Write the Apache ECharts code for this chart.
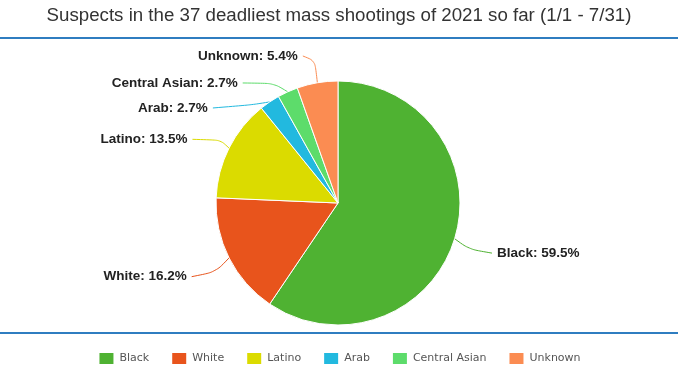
<!DOCTYPE html>
<html><head><meta charset="utf-8">
<script src="https://cdn.jsdelivr.net/npm/echarts@6/dist/echarts.min.js"></script>
<style>html,body{margin:0;padding:0;background:#fff}#c{width:678px;height:381px}</style>
</head><body><div id="c"></div>
<script>
const titleText = 'Suspects in the 37 deadliest mass shootings of 2021 so far (1/1 - 7/31)';
const categories = ['Black', 'White', 'Latino', 'Arab', 'Central Asian', 'Unknown'];
const counts = [22, 6, 5, 1, 1, 2];
const colors = ['#4fb232', '#e8541c', '#dbdb00', '#22b9df', '#5ddc6b', '#fb8c52'];
// label nudges (layout only)
const labelDx = [-5, 4, 0, -11, -3, 16];
const labelDy = [10, 12, -2, 8, -1, -12];

const chart = echarts.init(document.getElementById('c'), null, {renderer: 'canvas'});
chart.setOption({
  animation: false,
  backgroundColor: '#fff',
  title: {
    text: titleText, left: 'center', top: 1,
    textStyle: {fontFamily: "'Liberation Sans', Arial, sans-serif", fontSize: 18.7, fontWeight: 'normal', color: '#333'}
  },
  graphic: [
    {type: 'rect', shape: {x: 0, y: 37, width: 678, height: 2}, style: {fill: '#2f7dc0'}},
    {type: 'rect', shape: {x: 0, y: 332, width: 678, height: 2}, style: {fill: '#2f7dc0'}}
  ],
  legend: {
    bottom: 10, left: 'center', itemWidth: 16, itemHeight: 13, itemGap: 21,
    icon: 'rect',
    textStyle: {fontFamily: "'DejaVu Sans', Verdana, sans-serif", fontSize: 11, color: '#555'},
    data: categories
  },
  color: colors,
  series: [{
    type: 'pie',
    center: [338, 203],
    radius: [0, 122],
    startAngle: 90,
    clockwise: true,
    avoidLabelOverlap: true,
    itemStyle: {borderColor: '#fff', borderWidth: 1},
    label: {
      formatter: function (p) { return p.name + ': ' + p.percent.toFixed(1) + '%'; },
      fontFamily: "'Liberation Sans', Arial, sans-serif", fontSize: 13.5, fontWeight: 'bold', color: '#222',
      padding: [6, 0, 6, 0]
    },
    labelLine: {length: 15, length2: 28, smooth: true, lineStyle: {width: 1}},
    labelLayout: function (p) {
      const i = p.dataIndex, dx = labelDx[i], dy = labelDy[i];
      const out = {dx: dx, dy: dy};
      const pts = p.labelLinePoints;
      if (pts && pts.length === 3) {
        out.labelLinePoints = [
          pts[0].slice(),
          [pts[1][0], pts[1][1] + dy * 0.6],
          [pts[2][0] + dx, pts[2][1] + dy]
        ];
      }
      return out;
    },
    data: categories.map((c, i) => ({name: c, value: counts[i]}))
  }]
});
</script></body></html>
